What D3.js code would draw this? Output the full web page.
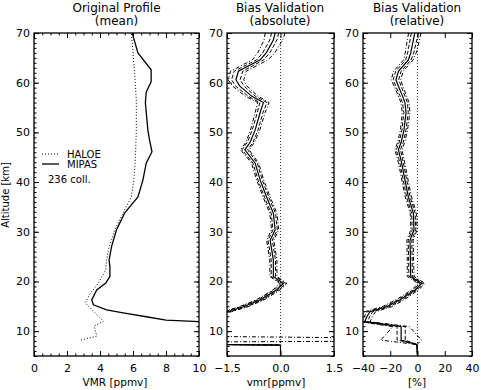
<!DOCTYPE html>
<html>
    <head>
        <meta charset="utf-8">
        <title>HALOE / MIPAS comparison</title>
        <script src="https://d3js.org/d3.v7.min.js"></script>
        <style>
            body { margin: 0; background: #fff; }
            text { font-family: "DejaVu Sans", sans-serif; fill: #000; }
        </style>
    </head>
    <body>
        <div id="my_dataviz"></div>

        <script>

            // ---- data ----

            // panel 1: mean profiles (altitude km, vmr ppmv)
            var haloeAlt = [8.2, 9.0, 11, 12, 15.7, 17.5, 19.7, 22.3, 24.3, 26.3, 30.4, 33.8, 37, 40.4, 45, 50.5, 56.5, 62, 66, 70];
            var haloeVmr = [2.85, 3.8, 3.65, 4.2, 3.1, 3.4, 3.9, 4.35, 4.4, 4.5, 4.9, 5.4, 5.9, 6.05, 6.15, 6.2, 6.2, 6.1, 6.0, 5.9];

            var mipasAlt = [11.0, 11.9, 12.05, 12.2, 12.9, 13.7, 14.3, 15.3, 16.3, 18.3, 19.7, 21, 23, 24.3, 27, 30.4, 33.8, 37, 40.4, 43.8, 46.1, 48.5, 50.5, 55.9, 58.1, 60.2, 62.6, 66, 70];
            var mipasVmr = [20, 10.2, 9.0, 8.0, 6.8, 5.4, 4.4, 3.6, 3.5, 3.8, 4.35, 4.6, 4.6, 4.55, 4.7, 5.0, 5.5, 6.3, 6.6, 6.8, 7.15, 7.0, 6.9, 6.75, 6.8, 7.1, 7.1, 6.3, 5.95];

            // panel 2: absolute bias (ppmv) with two error envelopes
            var absAlt  = [70, 68.6, 66, 64.6, 62.3, 60.6, 59.3, 57.3, 56, 54, 50.5, 48, 46.5, 43.8, 40.4, 37, 33.7, 30.4, 28.3, 24.3, 21, 19.6, 18.3, 16.3, 14.9, 13.9, 13, 9.0, 8.6, 8.0, 7.8, 7.4, 7.2, 5];
            var absBias = [-0.15, -0.2, -0.4, -0.57, -1.18, -1.25, -1.14, -0.81, -0.48, -0.57, -0.71, -0.85, -1.0, -0.71, -0.57, -0.39, -0.2, -0.15, -0.29, -0.2, -0.2, 0.08, -0.11, -0.57, -1.04, -1.5, -3, -3, -3, -3, -3, -3, 0, 0];
            var absErr1 = [0.1, 0.1, 0.1, 0.1, 0.12, 0.12, 0.12, 0.1, 0.1, 0.08, 0.08, 0.08, 0.08, 0.06, 0.06, 0.06, 0.06, 0.06, 0.06, 0.06, 0.06, 0.06, 0.06, 0.07, 0.08, 0.08, 0.1, 0.1, 0.1, 0.1, 0.1, 0.1, 0, 0];
            var absErr2 = [0.28, 0.26, 0.24, 0.22, 0.22, 0.22, 0.2, 0.18, 0.16, 0.14, 0.13, 0.12, 0.12, 0.1, 0.1, 0.1, 0.1, 0.1, 0.1, 0.1, 0.1, 0.1, 0.1, 0.11, 0.12, 0.12, 0.2, 0.2, 6, 6, 0.2, 0.2, 0, 0];

            // panel 3: relative bias (%) with two error envelopes
            var relAlt  = [70, 68.6, 66, 64.6, 62.3, 60.6, 59.3, 57.3, 56, 54, 50.5, 48, 46.5, 43.8, 40.4, 37, 33.7, 30.4, 28.3, 24.3, 21, 19.6, 18.3, 16.3, 14.9, 13.9, 13, 11.9, 10.9, 8.2, 7.3, 5];
            var relBias = [-2, -3, -5, -6.7, -14, -15.8, -14, -11, -9.2, -8.4, -9.9, -12, -14, -11.6, -9.2, -6.7, -3, -2.6, -5.5, -5.2, -5, 3, -1.8, -12.8, -22.6, -34.9, -37, -38.8, -12, -12, -0.4, 0];
            var relErr1 = [2.5, 2.5, 2.2, 2, 2, 2, 2, 1.8, 1.8, 1.6, 1.5, 1.5, 1.5, 1.3, 1.3, 1.3, 1.3, 1.3, 1.3, 1.3, 1.3, 1.3, 1.3, 1.5, 1.8, 2, 2, 2, 3, 3, 0, 0];
            var relErr2 = [4.5, 4.5, 4, 3.5, 3.5, 3.5, 3.2, 3, 3, 2.8, 2.6, 2.6, 2.6, 2.3, 2.3, 2.3, 2.3, 2.3, 2.3, 2.3, 2.5, 2.5, 2.5, 3, 3.5, 4, 4, 4, 6, 15, 0, 0];

            // tick labels
            var altTicks = [10, 20, 30, 40, 50, 60, 70];
            var vmrTicks = [0, 2, 4, 6, 8, 10];
            var absTicks = [-1.5, 0, 1.5];
            var relTicks = [-40, -20, 0, 20, 40];

            // ---- layout ----
            var W = 481, H = 390;
            var yTop = 33, yBot = 356;

            var svg = d3.select("#my_dataviz")
              .append("svg")
                .attr("width", W)
                .attr("height", H);

            var y = d3.scaleLinear().domain([5, 70]).range([yBot, yTop]);

            var x1 = d3.scaleLinear().domain([0, 10]).range([34, 199]);
            var x2 = d3.scaleLinear().domain([-1.5, 1.5]).range([227, 334]);
            var x3 = d3.scaleLinear().domain([-40, 40]).range([363, 472]);

            // draws box, inward ticks on all four sides and labels
            function frame(x, xTicks, xMinor, fmt, id) {
              var g = svg.append("g");
              var xr = x.range();

              // clip for data
              svg.append("clipPath").attr("id", id)
                .append("rect")
                  .attr("x", xr[0]).attr("y", yTop)
                  .attr("width", xr[1] - xr[0]).attr("height", yBot - yTop);

              // minor ticks
              var minorY = d3.range(5, 71, 1);
              g.append("g").attr("transform", "translate(" + xr[0] + ",0)")
                .call(d3.axisLeft(y).tickValues(minorY).tickSize(-2.5).tickFormat(""));
              g.append("g").attr("transform", "translate(" + xr[1] + ",0)")
                .call(d3.axisRight(y).tickValues(minorY).tickSize(-2.5).tickFormat(""));
              if (xMinor) {
                g.append("g").attr("transform", "translate(0," + yBot + ")")
                  .call(d3.axisBottom(x).tickValues(xMinor).tickSize(-2.5).tickFormat(""));
                g.append("g").attr("transform", "translate(0," + yTop + ")")
                  .call(d3.axisTop(x).tickValues(xMinor).tickSize(-2.5).tickFormat(""));
              }

              // major ticks + labels
              g.append("g").attr("transform", "translate(" + xr[0] + ",0)")
                .call(d3.axisLeft(y).tickValues(altTicks).tickSize(-5).tickPadding(4));
              g.append("g").attr("transform", "translate(" + xr[1] + ",0)")
                .call(d3.axisRight(y).tickValues(altTicks).tickSize(-5).tickFormat(""));
              g.append("g").attr("transform", "translate(0," + yBot + ")")
                .call(d3.axisBottom(x).tickValues(xTicks).tickSize(-5).tickPadding(8).tickFormat(fmt));
              g.append("g").attr("transform", "translate(0," + yTop + ")")
                .call(d3.axisTop(x).tickValues(xTicks).tickSize(-5).tickFormat(""));

              g.selectAll(".domain").remove();
              g.selectAll(".tick line").attr("stroke", "#000").attr("stroke-width", 1);
              g.selectAll("text")
                .attr("font-family", "DejaVu Sans, sans-serif")
                .attr("font-size", 11)
                .attr("fill", "#000");

              g.append("rect")
                .attr("x", xr[0]).attr("y", yTop)
                .attr("width", xr[1] - xr[0]).attr("height", yBot - yTop)
                .attr("fill", "none")
                .attr("stroke", "#000")
                .attr("stroke-width", 1.3);
              return g;
            }

            function title(cx, t1, t2) {
              svg.append("text").attr("x", cx).attr("y", 12)
                .attr("text-anchor", "middle").attr("font-size", 12).text(t1);
              svg.append("text").attr("x", cx).attr("y", 25)
                .attr("text-anchor", "middle").attr("font-size", 12).text(t2);
            }

            function xlabel(cx, t) {
              svg.append("text").attr("x", cx).attr("y", 386)
                .attr("text-anchor", "middle").attr("font-size", 10.5).text(t);
            }

            // ---- panel 1: original profile ----
            frame(x1, vmrTicks, d3.range(0, 10.01, 0.5), d3.format("d"), "clip1");
            title(116.5, "Original Profile", "(mean)");
            xlabel(115, "VMR [ppmv]");

            svg.append("text")
              .attr("transform", "translate(9,195) rotate(-90)")
              .attr("text-anchor", "middle")
              .attr("font-size", 10)
              .text("Altitude [km]");

            var line1 = d3.line()
              .x(function (d) { return x1(d[1]); })
              .y(function (d) { return y(d[0]); });

            svg.append("path")
              .datum(d3.zip(haloeAlt, haloeVmr))
              .attr("clip-path", "url(#clip1)")
              .attr("d", line1)
              .attr("fill", "none")
              .attr("stroke", "#000")
              .attr("stroke-width", 1)
              .attr("stroke-dasharray", "1,2");

            svg.append("path")
              .datum(d3.zip(mipasAlt, mipasVmr))
              .attr("clip-path", "url(#clip1)")
              .attr("d", line1)
              .attr("fill", "none")
              .attr("stroke", "#000")
              .attr("stroke-width", 1.3);

            // legend
            svg.append("line").attr("x1", 42).attr("x2", 59).attr("y1", 154).attr("y2", 154)
              .attr("stroke", "#000").attr("stroke-dasharray", "1,2");
            svg.append("line").attr("x1", 42).attr("x2", 59).attr("y1", 164).attr("y2", 164)
              .attr("stroke", "#000").attr("stroke-width", 1.3);
            svg.append("text").attr("x", 67).attr("y", 157.5).attr("font-size", 10).text("HALOE");
            svg.append("text").attr("x", 67).attr("y", 167.5).attr("font-size", 10).text("MIPAS");
            svg.append("text").attr("x", 48).attr("y", 183).attr("font-size", 10).text("236 coll.");

            // ---- panels 2 and 3: bias with envelopes ----
            function biasPanel(x, alt, bias, e1, e2, clipId) {
              // zero reference
              svg.append("line")
                .attr("x1", x(0)).attr("x2", x(0))
                .attr("y1", yTop).attr("y2", yBot)
                .attr("stroke", "#000")
                .attr("stroke-width", 0.8)
                .attr("stroke-dasharray", "1,2");

              var styles = [
                { s: -1, e: e2, dash: "4,2,1,2", w: 1 },
                { s:  1, e: e2, dash: "4,2,1,2", w: 1 },
                { s: -1, e: e1, dash: "4,2", w: 1 },
                { s:  1, e: e1, dash: "4,2", w: 1 },
                { s:  0, e: e1, dash: null, w: 1.2 }
              ];
              styles.forEach(function (st) {
                var pts = alt.map(function (a, i) { return [a, bias[i] + st.s * st.e[i]]; });
                svg.append("path")
                  .datum(pts)
                  .attr("clip-path", "url(#" + clipId + ")")
                  .attr("d", d3.line()
                    .x(function (d) { return x(d[1]); })
                    .y(function (d) { return y(d[0]); }))
                  .attr("fill", "none")
                  .attr("stroke", "#000")
                  .attr("stroke-width", st.w)
                  .attr("stroke-dasharray", st.dash);
              });
            }

            frame(x2, absTicks, null, d3.format(".1f"), "clip2");
            title(280, "Bias Validation", "(absolute)");
            xlabel(276, "vmr[ppmv]");
            biasPanel(x2, absAlt, absBias, absErr1, absErr2, "clip2");

            frame(x3, relTicks, null, d3.format("d"), "clip3");
            title(417, "Bias Validation", "(relative)");
            xlabel(417, "[%]");
            biasPanel(x3, relAlt, relBias, relErr1, relErr2, "clip3");

        </script>
    </body>
</html>
